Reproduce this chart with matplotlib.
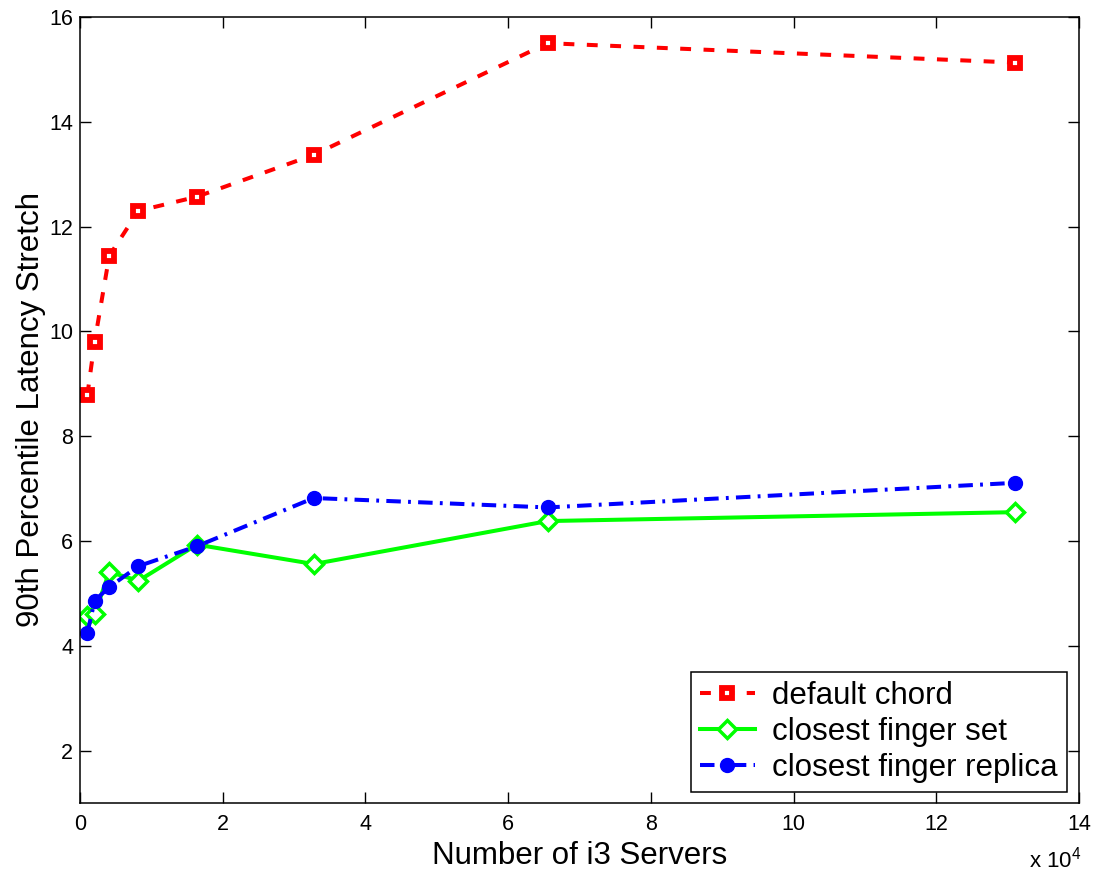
import matplotlib
matplotlib.use("Agg")
import matplotlib.pyplot as plt

plt.rcParams["font.family"] = ["Liberation Sans", "DejaVu Sans"]
plt.rcParams["mathtext.fontset"] = "custom"
plt.rcParams["mathtext.rm"] = "Liberation Sans"
plt.rcParams["mathtext.default"] = "regular"

# number of i3 servers, in units of 1e4
servers = [0.1024, 0.2048, 0.4096, 0.8192, 1.6384, 3.2768, 6.5536, 13.1072]
default_chord = [8.78, 9.80, 11.44, 12.30, 12.57, 13.37, 15.50, 15.13]
closest_set = [4.57, 4.60, 5.41, 5.24, 5.93, 5.56, 6.38, 6.55]
closest_replica = [4.24, 4.86, 5.12, 5.52, 5.90, 6.82, 6.64, 7.11]
labels = ["default chord", "closest finger set", "closest finger replica"]

fig = plt.figure(figsize=(10.93, 8.71), dpi=100)
ax = fig.add_axes([0.0732, 0.0781, 0.9140, 0.9024])

lw = 2.9
ax.plot(servers, default_chord, color="#ff0000", lw=lw, dashes=(2.7, 3.1),
        marker="s", ms=7.5, mfc="white", mec="#ff0000", mew=4.2, label=labels[0])
ax.plot(servers, closest_set, color="#00ff00", lw=lw, marker="D", ms=9,
        mfc="white", mec="#00ff00", mew=2.5, label=labels[1])
ax.plot(servers, closest_replica, color="#0000ff", lw=lw,
        dashes=(3.6, 1.8, 0.7, 1.8), marker="o", ms=10, mfc="#0000ff",
        mec="#0000ff", label=labels[2])

ax.set_xlim(0, 14)
ax.set_ylim(1, 16)
ax.set_xticks(range(0, 15, 2))
ax.set_yticks(range(2, 17, 2))
ax.tick_params(direction="in", length=8, width=1, labelsize=15.5,
               top=True, right=True)
ax.tick_params(axis="x", pad=8)
ax.tick_params(axis="y", pad=5)
for s in ax.spines.values():
    s.set_linewidth(1.1)

ax.set_xlabel("Number of i3 Servers", fontsize=22.5, labelpad=4.5)
ax.set_ylabel("90th Percentile Latency Stretch", fontsize=22.5, labelpad=2)
ax.text(1.002, -0.0725, r"x 10$^4$", transform=ax.transAxes, ha="right",
        va="center", fontsize=16)

leg = ax.legend(loc="lower right", bbox_to_anchor=(0.988, 0.014), fontsize=22.5,
                fancybox=False, framealpha=1, edgecolor="black",
                handlelength=1.75, borderpad=0.3, labelspacing=0.18,
                handletextpad=0.55, borderaxespad=0)
leg.get_frame().set_linewidth(1.1)

fig.savefig("out.png", dpi=100)
